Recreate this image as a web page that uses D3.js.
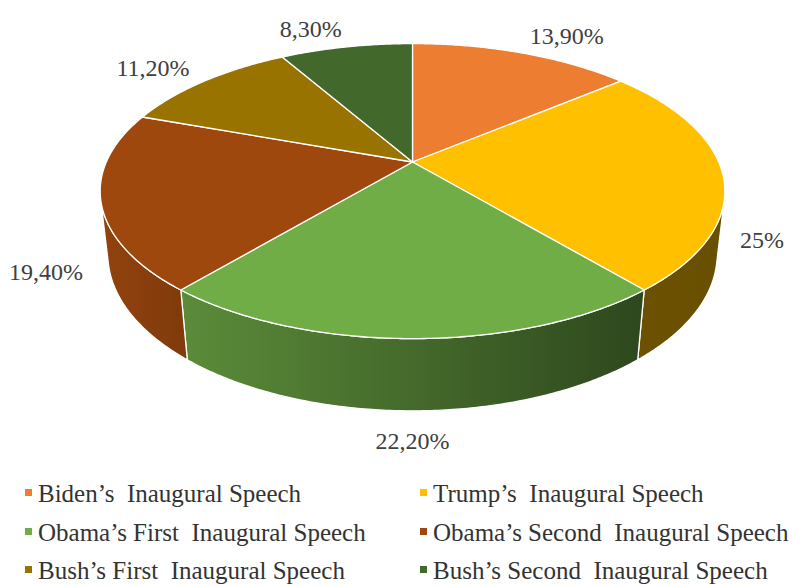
<!DOCTYPE html>
<html>
<head>
<meta charset="utf-8">
<script src="https://cdn.jsdelivr.net/npm/d3@7"></script>
<style>
  html, body { margin: 0; padding: 0; background: #ffffff; }
  svg { display: block; }
  text { white-space: pre; }
  .serif { font-family: "Liberation Serif", Tinos, "Times New Roman", Times, serif; }
</style>
</head>
<body>
<svg id="chart" width="801" height="587"></svg>
<script>
// Share of each inaugural speech (percent)
const categories = [
  "Biden\u2019s  Inaugural Speech",
  "Trump\u2019s  Inaugural Speech",
  "Obama\u2019s First  Inaugural Speech",
  "Obama\u2019s Second  Inaugural Speech",
  "Bush\u2019s First  Inaugural Speech",
  "Bush\u2019s Second  Inaugural Speech"
];
const values = [13.9, 25, 22.2, 19.4, 11.2, 8.3];
const colors = ["#ED7D31", "#FFC000", "#70AD47", "#9E480E", "#997300", "#43682B"];

// Percent label in the decimal-comma style used on the chart
const fmtLabel = v => (Number.isInteger(v) ? String(v) : v.toFixed(2).replace(".", ",")) + "%";

const svg = d3.select("#chart");
const color = d3.scaleOrdinal().domain(categories).range(colors);

// Pie layout: clockwise from 12 o'clock, data order kept
const pie = d3.pie().sort(null).value(d => d.value);
const arcs = pie(categories.map((c, i) => ({ name: c, value: values[i] })));

// Perspective view of a tilted disc (unit radius, thickness h)
const view = { cx: 412.5, cy: 162, f: 1375, D: 4.491, tilt: Math.asin(0.463), h: 0.236 };
const sT = Math.sin(view.tilt), cT = Math.cos(view.tilt);
function project(X, Y, Z) {
  const yc = Y * sT + Z * cT;
  const zc = view.D + Y * cT - Z * sT;
  return [view.cx + view.f * X / zc, view.cy - view.f * yc / zc];
}
const onRim = (r, a, Z) => project(r * Math.sin(a), r * Math.cos(a), Z);

function rimPoints(a0, a1, Z) {
  const n = Math.max(2, Math.ceil(Math.abs(a1 - a0) / 0.01));
  return d3.range(n + 1).map(i => onRim(1, a0 + (a1 - a0) * i / n, Z));
}
const line = d3.line();

// Outer wall faces the viewer only between these angles
const lim = Math.acos(-1 / (view.D * cT));
const wallFrom = lim, wallTo = 2 * Math.PI - lim;

// Horizontal shading of the side wall
const leftX = project(-1, 0, 0)[0], rightX = project(1, 0, 0)[0];
const shadeStops = [[0, 0.92], [0.14, 0.80], [0.86, 0.42], [1, 0.41]];
const defs = svg.append("defs");
arcs.forEach((d, i) => {
  const g = defs.append("linearGradient")
    .attr("id", "side" + i)
    .attr("gradientUnits", "userSpaceOnUse")
    .attr("x1", leftX).attr("x2", rightX).attr("y1", 0).attr("y2", 0);
  const base = d3.rgb(color(d.data.name));
  shadeStops.forEach(([o, k]) => {
    g.append("stop").attr("offset", o)
      .attr("stop-color", d3.rgb(base.r * k, base.g * k, base.b * k).formatHex());
  });
});

// Side walls
const walls = svg.append("g");
arcs.forEach((d, i) => {
  const a0 = Math.max(d.startAngle, wallFrom), a1 = Math.min(d.endAngle, wallTo);
  if (a1 <= a0) return;
  const pts = rimPoints(a0, a1, 0).concat(rimPoints(a1, a0, -view.h));
  walls.append("path")
    .attr("d", line(pts) + "Z")
    .attr("fill", `url(#side${i})`)
    .attr("stroke", "#ffffff")
    .attr("stroke-width", 1.3)
    .attr("stroke-linejoin", "round");
});

// Top faces
const tops = svg.append("g");
arcs.forEach(d => {
  const pts = [project(0, 0, 0)].concat(rimPoints(d.startAngle, d.endAngle, 0));
  tops.append("path")
    .attr("d", line(pts) + "Z")
    .attr("fill", color(d.data.name))
    .attr("stroke", "#ffffff")
    .attr("stroke-width", 1.3)
    .attr("stroke-linejoin", "round");
});

// Value labels just outside each slice
const labelH = 22;
const labels = svg.append("g")
  .attr("class", "serif")
  .style("font-size", "24px")
  .attr("fill", "#404040");
arcs.forEach(d => {
  const mid = (d.startAngle + d.endAngle) / 2;
  const sn = Math.sin(mid), cs = Math.cos(mid);
  const [ax, ay] = onRim(1.08, mid, cs < 0 ? -view.h : 0);
  const t = labels.append("text").text(fmtLabel(d.data.value))
    .attr("dominant-baseline", "central");
  const w = t.node().getComputedTextLength();
  const dx = sn > 0.05 ? w / 2 : (sn < -0.05 ? -w / 2 : 0);
  t.attr("text-anchor", "middle")
    .attr("x", ax + dx)
    .attr("y", ay - cs * labelH / 2);
});

// Legend: two columns, three rows
const legend = svg.append("g")
  .attr("class", "serif")
  .style("font-size", "25px")
  .attr("fill", "#333333");
const colX = [25, 420], rowY = [493, 532, 570];
categories.forEach((c, i) => {
  const x = colX[i % 2], y = rowY[Math.floor(i / 2)];
  const item = legend.append("g").attr("transform", `translate(${x},${y})`);
  item.append("rect").attr("x", 0).attr("y", -4).attr("width", 7).attr("height", 7)
    .attr("fill", color(c));
  item.append("text").attr("x", 13).attr("y", 0)
    .attr("dominant-baseline", "central").text(c);
});
</script>
</body>
</html>
